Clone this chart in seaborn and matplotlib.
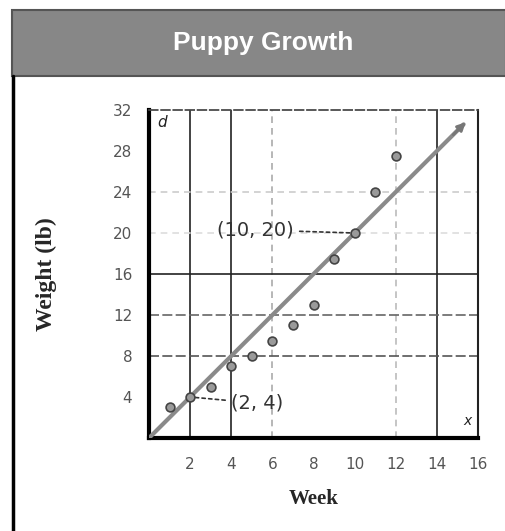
import numpy as np
import pandas as pd
import seaborn as sns
import matplotlib.pyplot as plt
from matplotlib.patches import Rectangle

# data
weeks = [1, 2, 3, 4, 5, 6, 7, 8, 9, 10, 11, 12]
weights = [3, 4, 5, 7, 8, 9.5, 11, 13, 17.5, 20, 24, 27.5]
trend_x = [0, 15.3]
slope = 2
x_ticks = [2, 4, 6, 8, 10, 12, 14, 16]
y_ticks = [4, 8, 12, 16, 20, 24, 28, 32]
labeled = [(10, 20), (2, 4)]

sns.set_theme(style="white")
plt.rcParams['font.family'] = ['DejaVu Sans']

fig = plt.figure(figsize=(5.06, 5.31), dpi=100)
fig.patch.set_facecolor("white")

# title banner and frame
fig.patches.append(Rectangle((12 / 506, 1 - 76 / 531), 494 / 506, 66 / 531,
                             transform=fig.transFigure, facecolor="#878787",
                             edgecolor="#555555", lw=1.5))
fig.text(0.52, 1 - 43 / 531, "Puppy Growth", color="white", fontsize=19,
         fontweight="bold", ha="center", va="center", family="Liberation Sans")
fig.add_artist(plt.Line2D([13 / 506, 13 / 506], [0, 1 - 76 / 531], color="black",
                          lw=2.5, transform=fig.transFigure))

ax = fig.add_axes([149 / 506, 1 - 438 / 531, 329 / 506, 328 / 531])
ax.set_xlim(0, 16)
ax.set_ylim(0, 32)

# grid lines (scan style)
for xv, st, c in [(2, "-", "#222222"), (4, "-", "#222222"), (6, (0, (4, 3)), "#aaaaaa"),
                  (12, (0, (4, 3)), "#bbbbbb"), (14, "-", "#222222")]:
    ax.axvline(xv, ls=st, color=c, lw=1.2, zorder=1)
for yv, st, c in [(8, (0, (6, 2)), "#555555"), (12, (0, (6, 2)), "#666666"),
                  (16, "-", "#222222"), (20, (0, (4, 3)), "#dddddd"),
                  (24, (0, (4, 3)), "#cccccc")]:
    ax.axhline(yv, ls=st, color=c, lw=1.2, zorder=1)

df = pd.DataFrame({"Week": weeks, "Weight": weights})
sns.scatterplot(data=df, x="Week", y="Weight", ax=ax, s=40, color="#9a9a9a",
                edgecolor="#444444", linewidth=1.2, zorder=4)

trend = pd.DataFrame({"x": trend_x, "y": [slope * v for v in trend_x]})
sns.lineplot(data=trend, x="x", y="y", ax=ax, color="#8a8a8a", lw=3, zorder=3)
ax.annotate("", xy=(trend_x[1] + 0.2, slope * (trend_x[1] + 0.2)),
            xytext=(trend_x[1] - 0.6, slope * (trend_x[1] - 0.6)),
            arrowprops=dict(arrowstyle="-|>", color="#777777", lw=2), zorder=3)

# point labels
ax.annotate("(10, 20)", xy=labeled[0], xytext=(3.3, 20.3), fontsize=14,
            color="#333333", va="center",
            arrowprops=dict(arrowstyle="-", ls=(0, (2, 2)), color="#333333", lw=1.2))
ax.annotate("(2, 4)", xy=labeled[1], xytext=(4.0, 3.4), fontsize=14,
            color="#333333", va="center",
            arrowprops=dict(arrowstyle="-", ls=(0, (2, 2)), color="#333333", lw=1.2))

ax.text(0.4, 31.5, "d", fontsize=11, style="italic", va="top", color="#222222")
ax.text(15.3, 1.0, "x", fontsize=10, style="italic", va="bottom", color="#222222")

ax.set_xticks(x_ticks)
ax.set_yticks(y_ticks)
ax.set_xticklabels([str(t) for t in x_ticks], fontsize=11, color="#555555")
ax.set_yticklabels([str(t) for t in y_ticks], fontsize=11, color="#555555")
ax.tick_params(axis="x", pad=14, length=0)
ax.tick_params(axis="y", pad=12, length=0)

for side in ["left", "bottom"]:
    ax.spines[side].set_linewidth(3)
    ax.spines[side].set_color("black")
ax.spines["top"].set_linestyle((0, (5, 2)))
ax.spines["top"].set_color("#444444")
ax.spines["right"].set_color("#222222")
ax.spines["right"].set_linewidth(1.5)

ax.set_xlabel("Week", fontsize=15, fontweight="bold", family="Liberation Serif", labelpad=12)
ax.set_ylabel("Weight (lb)", fontsize=17, fontweight="bold", family="Liberation Serif", labelpad=40)

fig.savefig("out.png", dpi=100)
